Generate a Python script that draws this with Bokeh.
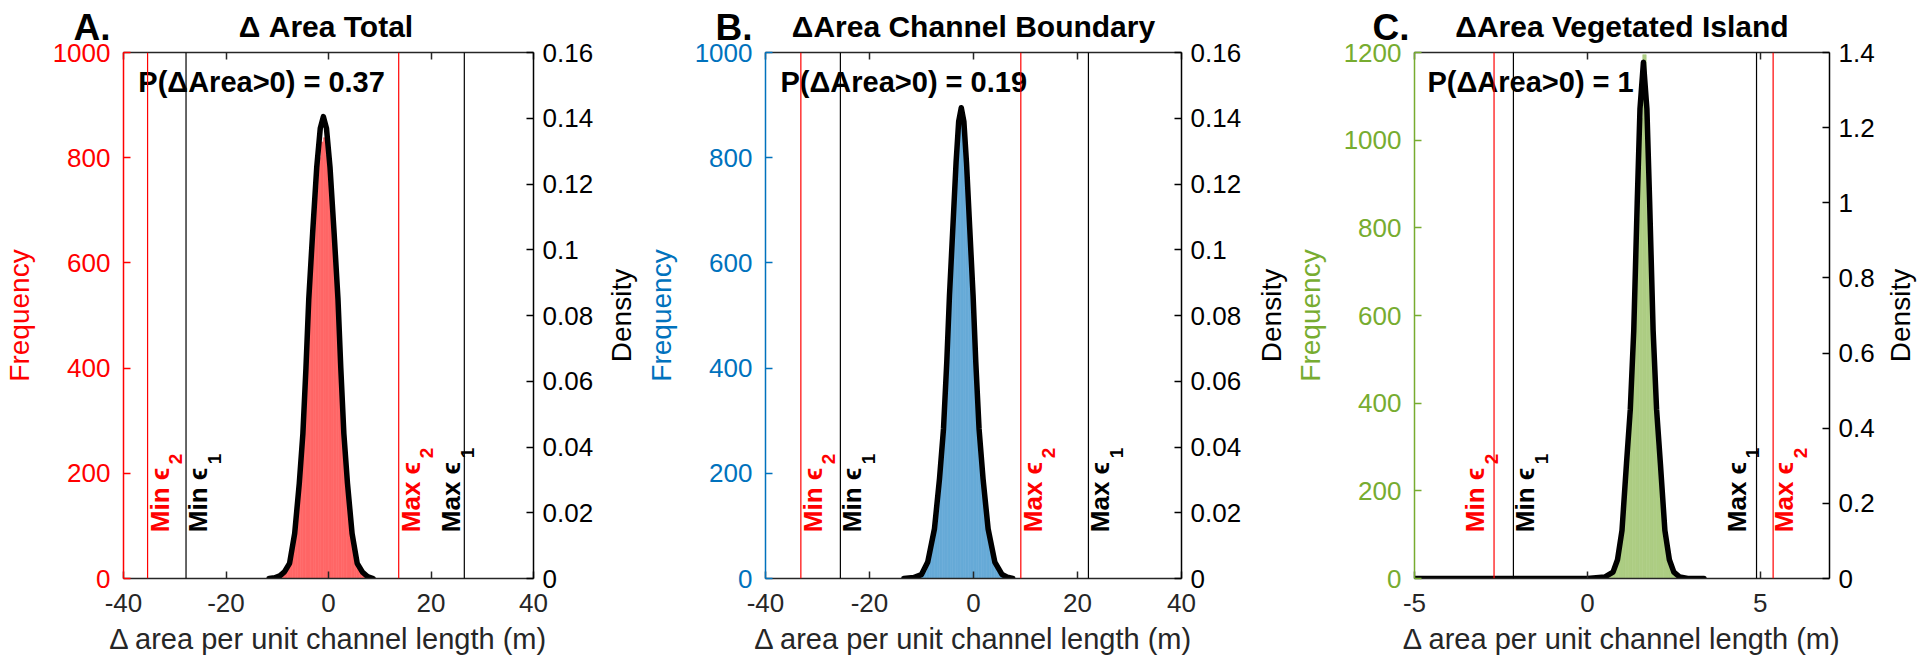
import math
from bokeh.plotting import figure
from bokeh.models import Range1d, LinearAxis, FixedTicker, Span, ColumnDataSource
from bokeh.layouts import row, column
from bokeh.embed import file_html
from bokeh.resources import INLINE
from bokeh.core.properties import value

FONT = "Liberation Sans"
AX_DARK = "#262626"

# ---------------- Panel A : Delta Area Total ----------------
a_bin_centers = [-10.75, -10.25, -9.75, -9.25, -8.75, -8.25, -7.75, -7.25, -6.75, -6.25,
                 -5.75, -5.25, -4.75, -4.25, -3.75, -3.25, -2.75, -2.25, -1.75, -1.25,
                 -0.75, -0.25, 0.25, 0.75, 1.25, 1.75, 2.25, 2.75, 3.25, 3.75,
                 4.25, 4.75, 5.25, 5.75, 6.25, 6.75, 7.25, 7.75, 8.25]
a_counts = [1, 2, 4, 6, 11, 17, 25, 45, 72, 110,
            166, 225, 305, 415, 520, 600, 680, 745, 800, 830,
            838, 805, 750, 682, 598, 522, 410, 300, 228, 160,
            112, 70, 44, 24, 16, 10, 6, 3, 1]
a_curve_x = [-11.6, -10.5, -9.5, -8.6, -7.6, -6.6, -5.7, -5.0, -4.4, -3.85, -3.1, -2.3, -1.6,
             -1.0, -0.4, 0.3, 1.1, 1.85, 2.4, 3.0, 3.7, 4.6, 5.6, 6.6, 7.6, 8.7]
a_curve_density = [0.0, 0.0002, 0.0008, 0.002, 0.0046, 0.0137, 0.029, 0.044, 0.064, 0.085, 0.105, 0.125, 0.137,
                   0.1405, 0.137, 0.125, 0.105, 0.085, 0.064, 0.044, 0.029, 0.0137, 0.0046, 0.002, 0.0006, 0.0]
a_bounds = [-35.3, -27.8, 13.7, 26.5]

# ---------------- Panel B : Delta Area Channel Boundary ----------------
b_bin_centers = [-12.75, -12.25, -11.75, -11.25, -10.75, -10.25, -9.75, -9.25, -8.75, -8.25,
                 -7.75, -7.25, -6.75, -6.25, -5.75, -5.25, -4.75, -4.25, -3.75, -3.25,
                 -2.75, -2.25, -1.75, -1.25, -0.75, -0.25, 0.25, 0.75, 1.25, 1.75,
                 2.25, 2.75, 3.25, 3.75, 4.25, 4.75, 5.25, 5.75, 6.25, 6.75, 7.25]
b_counts = [0, 1, 1, 2, 3, 5, 8, 14, 30, 50,
            78, 110, 165, 215, 275, 375, 500, 600, 710, 785,
            850, 866, 830, 760, 650, 560, 450, 340, 250, 195,
            140, 95, 65, 40, 24, 12, 7, 4, 2, 1, 0]
b_curve_x = [-13.4, -11.5, -10.0, -8.8, -7.51, -6.54, -5.77, -5.14, -4.62, -3.98, -3.35, -2.85,
             -2.35, -1.85, -1.35, -0.72, -0.08, 0.44, 1.07, 1.84, 2.81, 4.1, 5.5, 6.5, 7.55]
b_curve_density = [0.0, 0.0003, 0.0012, 0.005, 0.0151, 0.0303, 0.0455, 0.0658, 0.0861, 0.1064, 0.1266, 0.139,
                   0.1432, 0.139, 0.1266, 0.1064, 0.0861, 0.0658, 0.0455, 0.0303, 0.0151, 0.005, 0.0012, 0.0004, 0.0]
b_bounds = [-33.2, -25.6, 9.1, 22.1]

# ---------------- Panel C : Delta Area Vegetated Island ----------------
c_bin_centers = [0.55, 0.65, 0.75, 0.85, 0.95, 1.05, 1.15, 1.25, 1.35, 1.45, 1.55, 1.65,
                 1.75, 1.85, 1.95, 2.05, 2.15, 2.25, 2.35, 2.45, 2.55, 2.65, 2.75]
c_counts = [3, 6, 14, 35, 75, 160, 260, 370, 540, 820, 1050, 1195,
            960, 700, 440, 300, 200, 100, 45, 18, 8, 4, 2]
c_curve_x = [-5.0, -2.0, 0.0, 0.5, 0.74, 0.87, 1.0, 1.13, 1.24, 1.34, 1.44, 1.52, 1.62,
             1.72, 1.80, 1.90, 2.00, 2.11, 2.24, 2.37, 2.50, 2.67, 2.9, 3.37]
c_curve_density = [0.0, 0.0, 0.0, 0.004, 0.017, 0.05, 0.128, 0.306, 0.45, 0.66, 1.0, 1.25, 1.374,
                   1.25, 1.0, 0.66, 0.45, 0.306, 0.128, 0.05, 0.017, 0.004, 0.0, 0.0]
c_bounds = [-2.7, -2.14, 5.37, 4.89]

bound_labels = ["Min ϵ", "Min ϵ", "Max ϵ", "Max ϵ"]
bound_subs = ["2", "1", "2", "1"]
bound_colors = ["#FF0000", "#000000", "#FF0000", "#000000"]

ab_x_ticks = [-40, -20, 0, 20, 40]
ab_x_labels = ["-40", "-20", "0", "20", "40"]
c_x_ticks = [-5, 0, 5]
c_x_labels = ["-5", "0", "5"]
ab_freq_ticks = [0, 200, 400, 600, 800, 1000]
c_freq_ticks = [0, 200, 400, 600, 800, 1000, 1200]
ab_dens_ticks = [0, 0.02, 0.04, 0.06, 0.08, 0.1, 0.12, 0.14, 0.16]
ab_dens_labels = ["0", "0.02", "0.04", "0.06", "0.08", "0.1", "0.12", "0.14", "0.16"]
c_dens_ticks = [0, 0.2, 0.4, 0.6, 0.8, 1.0, 1.2, 1.4]
c_dens_labels = ["0", "0.2", "0.4", "0.6", "0.8", "1", "1.2", "1.4"]

panels = [
    dict(letter="A.", title="Δ Area Total", prob="P(ΔArea>0) = 0.37",
         x0=0, W=640, L=118, R=107, dens_dx=88,
         xmin=-40, xmax=40, fmax=1000, dmax=0.16,
         axis_color="#FF0000", fill="#FF6666", bw=0.5,
         bins=a_bin_centers, counts=a_counts, cx=a_curve_x, cd=a_curve_density,
         bounds=a_bounds, label_off=[12, 12, 12, -13],
         xt=ab_x_ticks, xl=ab_x_labels, ft=ab_freq_ticks, dt=ab_dens_ticks, dl=ab_dens_labels,
         letter_dx=-45, prob_dx=15),
    dict(letter="B.", title="ΔArea Channel Boundary", prob="P(ΔArea>0) = 0.19",
         x0=640, W=650, L=125, R=109, dens_dx=90,
         xmin=-40, xmax=40, fmax=1000, dmax=0.16,
         axis_color="#0072BD", fill="#66AAD7", bw=0.5,
         bins=b_bin_centers, counts=b_counts, cx=b_curve_x, cd=b_curve_density,
         bounds=b_bounds, label_off=[12, 12, 12, 12],
         xt=ab_x_ticks, xl=ab_x_labels, ft=ab_freq_ticks, dt=ab_dens_ticks, dl=ab_dens_labels,
         letter_dx=-50, prob_dx=15),
    dict(letter="C.", title="ΔArea Vegetated Island", prob="P(ΔArea>0) = 1",
         x0=1290, W=629, L=124, R=90, dens_dx=71,
         xmin=-5, xmax=7, fmax=1200, dmax=1.4,
         axis_color="#77AC30", fill="#ADCD83", bw=0.1,
         bins=c_bin_centers, counts=c_counts, cx=c_curve_x, cd=c_curve_density,
         bounds=c_bounds, label_off=[-19, 12, 11, -20],
         xt=c_x_ticks, xl=c_x_labels, ft=c_freq_ticks, dt=c_dens_ticks, dl=c_dens_labels,
         letter_dx=-42, prob_dx=13),
]

TOTAL_W = 1919
TOTAL_H = 667
TOP_B = 52
BOTTOM_B = 89
FRAME_H = TOTAL_H - TOP_B - BOTTOM_B   # 526


def style_axis(ax, color):
    ax.axis_line_color = color
    ax.axis_line_width = 1.5
    ax.major_tick_line_color = color
    ax.major_tick_line_width = 1.5
    ax.major_tick_in = 7
    ax.major_tick_out = 0
    ax.minor_tick_line_color = None
    ax.major_label_text_color = color
    ax.major_label_text_font = FONT
    ax.major_label_text_font_size = "26px"
    ax.axis_label_text_font = FONT
    ax.axis_label_text_font_style = "normal"
    ax.axis_label_text_font_size = "29px"
    ax.axis_label_text_color = color


def make_panel(c):
    fw = c["W"] - c["L"] - c["R"]
    px_to_f = c["fmax"] / FRAME_H

    p = figure(width=c["W"], height=TOTAL_H,
               x_range=Range1d(c["xmin"], c["xmax"]), y_range=Range1d(0, c["fmax"]),
               output_backend="svg", toolbar_location=None,
               min_border_left=c["L"], min_border_right=c["R"],
               min_border_top=TOP_B, min_border_bottom=BOTTOM_B)
    p.outline_line_color = None
    p.xgrid.visible = False
    p.ygrid.visible = False
    p.background_fill_color = "white"
    p.border_fill_color = "white"
    p.extra_y_ranges = {"dens": Range1d(0, c["dmax"])}

    xa = p.xaxis[0]
    xa.ticker = FixedTicker(ticks=c["xt"])
    xa.major_label_overrides = {t: l for t, l in zip(c["xt"], c["xl"])}
    style_axis(xa, AX_DARK)
    xa.axis_label = "Δ area per unit channel length (m)"
    xa.major_label_standoff = 15
    xa.axis_label_standoff = 8

    ya = p.yaxis[0]
    ya.ticker = FixedTicker(ticks=c["ft"])
    ya.major_label_overrides = {t: str(t) for t in c["ft"]}
    style_axis(ya, c["axis_color"])
    ya.axis_label = "Frequency"
    ya.axis_label_text_font_size = "28px"
    ya.major_label_standoff = 13
    ya.axis_label_standoff = 15

    ra = LinearAxis(y_range_name="dens", ticker=FixedTicker(ticks=c["dt"]))
    ra.major_label_overrides = {t: l for t, l in zip(c["dt"], c["dl"])}
    style_axis(ra, "#000000")
    ra.major_label_standoff = 9
    p.add_layout(ra, "right")

    # top frame edge with inward ticks (no labels)
    ta = LinearAxis(ticker=FixedTicker(ticks=c["xt"]))
    style_axis(ta, AX_DARK)
    ta.major_label_text_color = None
    p.add_layout(ta, "above")

    # histogram
    src_h = ColumnDataSource(dict(x=c["bins"], top=c["counts"]))
    p.vbar(x="x", top="top", width=c["bw"], source=src_h,
           fill_color=c["fill"], line_color=c["fill"], line_width=0.6)

    # density curve
    src_c = ColumnDataSource(dict(x=c["cx"], y=c["cd"]))
    p.line(x="x", y="y", source=src_c, y_range_name="dens",
           line_color="black", line_width=5.5, line_join="round", line_cap="round")

    # error bound lines
    for v, col in zip(c["bounds"], bound_colors):
        p.add_layout(Span(location=v, dimension="height", line_color=col, line_width=1.2))

    y_main = 0.088 * c["fmax"]
    src_l = ColumnDataSource(dict(x=c["bounds"], text=bound_labels, color=bound_colors,
                                  xo=c["label_off"]))
    p.text(x="x", y=y_main, text="text", source=src_l,
           text_color="color", x_offset="xo", angle=math.pi / 2,
           text_font=value(FONT), text_font_style="bold", text_font_size="26px",
           text_align="left", text_baseline="middle")
    sub_shift = [68 if t.startswith("Min") else 74 for t in bound_labels]
    src_s = ColumnDataSource(dict(x=c["bounds"], y=[y_main + s * px_to_f for s in sub_shift],
                                  text=bound_subs, color=bound_colors,
                                  xo=[o + 16 for o in c["label_off"]]))
    p.text(x="x", y="y", text="text", source=src_s,
           text_color="color", x_offset="xo", angle=math.pi / 2,
           text_font=value(FONT), text_font_style="bold", text_font_size="19px",
           text_align="left", text_baseline="middle")

    # probability text (inside frame)
    src_p = ColumnDataSource(dict(x=[c["xmin"] + c["prob_dx"] / fw * (c["xmax"] - c["xmin"])],
                                  y=[c["fmax"] - 29.5 * px_to_f], text=[c["prob"]]))
    p.text(x="x", y="y", text="text", source=src_p, text_color="black",
           text_font=value(FONT), text_font_style="bold", text_font_size="29px",
           text_align="left", text_baseline="middle")
    return p


# transparent overlay over the whole picture, carrying panel letters, titles, right-axis names
overlay = figure(width=TOTAL_W, height=TOTAL_H, x_range=Range1d(0, TOTAL_W), y_range=Range1d(0, TOTAL_H),
                 output_backend="svg", toolbar_location=None, x_axis_type=None, y_axis_type=None,
                 min_border_left=0, min_border_right=0, min_border_top=0, min_border_bottom=0,
                 margin=(-TOTAL_H, 0, 0, 0))
overlay.outline_line_color = None
overlay.xgrid.visible = False
overlay.ygrid.visible = False
overlay.background_fill_color = None
overlay.border_fill_color = None

h_letters_x = [c["x0"] + c["L"] + c["letter_dx"] for c in panels]
h_titles_x = [c["x0"] + c["L"] + (c["W"] - c["L"] - c["R"]) / 2 for c in panels]
src_let = ColumnDataSource(dict(x=h_letters_x, y=[TOTAL_H - 26.7] * 3,
                                text=[c["letter"] for c in panels]))
overlay.text(x="x", y="y", text="text", source=src_let, text_color="black",
             text_font=value(FONT), text_font_style="bold", text_font_size="37px",
             text_align="left", text_baseline="middle")
src_tit = ColumnDataSource(dict(x=h_titles_x, y=[TOTAL_H - 26.2] * 3,
                                text=[c["title"] for c in panels]))
overlay.text(x="x", y="y", text="text", source=src_tit, text_color="black",
             text_font=value(FONT), text_font_style="bold", text_font_size="30px",
             text_align="center", text_baseline="middle")

dens_x = [c["x0"] + c["W"] - c["R"] + c["dens_dx"] for c in panels]
src_den = ColumnDataSource(dict(x=dens_x, y=[BOTTOM_B + FRAME_H / 2] * 3,
                                text=["Density"] * 3))
overlay.text(x="x", y="y", text="text", source=src_den, angle=math.pi / 2,
             text_font=value(FONT), text_font_size="28px", text_color="black",
             text_align="center", text_baseline="middle")

body = row(*[make_panel(c) for c in panels], spacing=0)
layout = column(body, overlay, spacing=0)

open("out.html", "w").write(file_html(layout, INLINE))
